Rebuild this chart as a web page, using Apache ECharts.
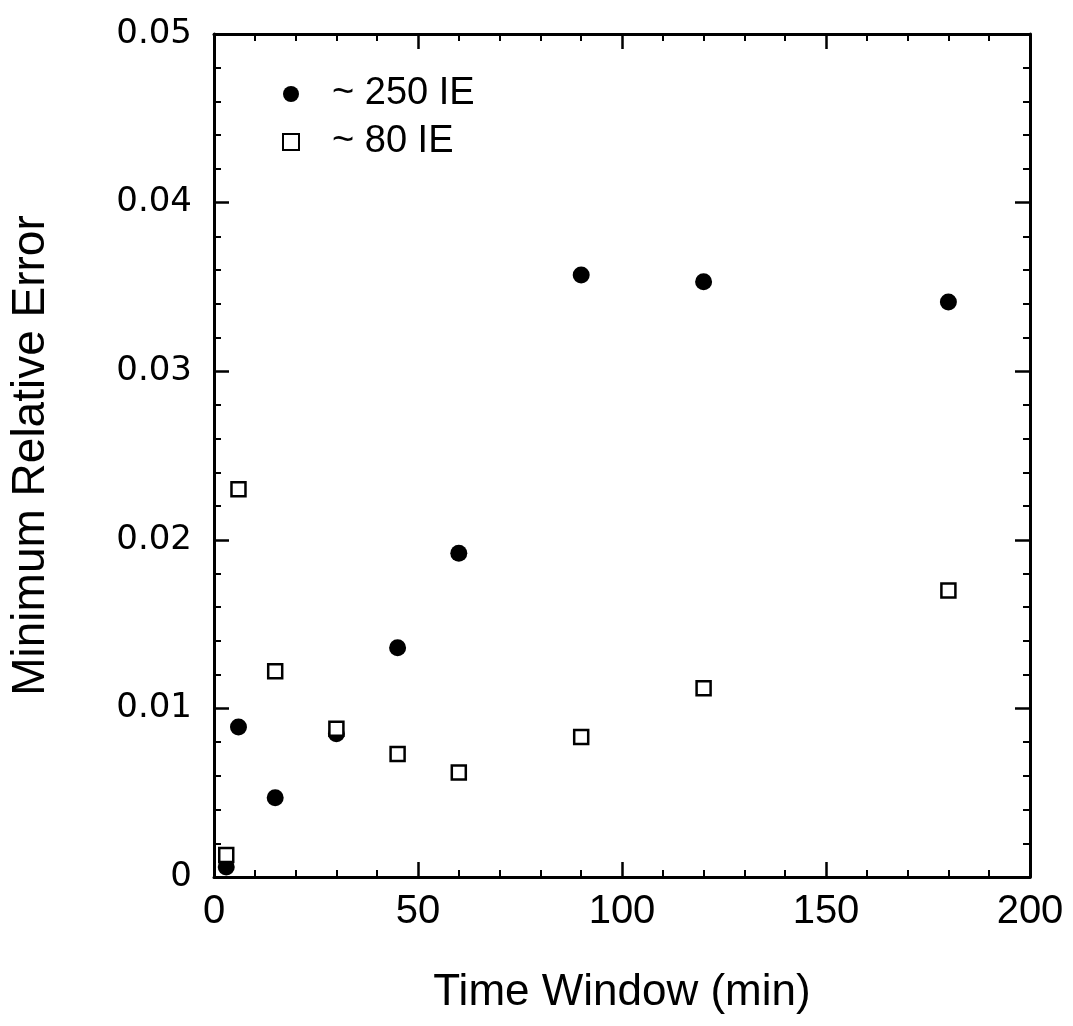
<!DOCTYPE html>
<html>
<head>
<meta charset="utf-8">
<script src="https://cdn.jsdelivr.net/npm/echarts@6/dist/echarts.min.js"></script>
<style>
html,body{margin:0;padding:0;background:#fff;}
#chart{width:1073px;height:1026px;}
</style>
</head>
<body>
<div id="chart"></div>
<script>
// Data
var seriesNames = ['~ 250 IE', '~ 80 IE'];
var timeWindow = [3, 6, 15, 30, 45, 60, 90, 120, 180];
var err250 = [0.0006, 0.0089, 0.0047, 0.0085, 0.0136, 0.0192, 0.0357, 0.0353, 0.0341];
var err80 = [0.0013, 0.0230, 0.0122, 0.0088, 0.0073, 0.0062, 0.0083, 0.0112, 0.0170];
var xTitle = 'Time Window (min)';
var yTitle = 'Minimum Relative Error';

function pairs(xs, ys) { return xs.map(function (x, i) { return [x, ys[i]]; }); }

var chart = echarts.init(document.getElementById('chart'), null, {renderer: 'canvas'});
var axisCommon = {
  axisLine: {show: true, onZero: false, lineStyle: {color: '#000', width: 3}},
  axisTick: {show: true, inside: true, length: 15, lineStyle: {color: '#000', width: 2.5}},
  minorTick: {show: true, splitNumber: 5, length: 7, lineStyle: {color: '#000', width: 2}},
  splitLine: {show: false}
};
var option = {
  backgroundColor: '#fff',
  animation: false,
  grid: {left: 213, right: 43, top: 34, bottom: 149, containLabel: false},
  legend: {
    data: seriesNames,
    orient: 'vertical',
    left: 277,
    top: 70,
    itemWidth: 16,
    itemHeight: 16,
    itemGap: 10,
    textStyle: {fontFamily: 'Liberation Sans', fontSize: 38, color: '#000', padding: [0, 0, 0, 28], lineHeight: 34}
  },
  xAxis: [
    Object.assign({}, axisCommon, {
      type: 'value', min: 0, max: 200, interval: 50, position: 'bottom',
      name: xTitle, nameLocation: 'middle', nameGap: 94,
      nameTextStyle: {fontFamily: 'Liberation Sans', fontSize: 44, color: '#000'},
      axisLabel: {show: true, margin: 15, color: '#000', fontFamily: 'Liberation Sans', fontSize: 40}
    }),
    Object.assign({}, axisCommon, {
      type: 'value', min: 0, max: 200, interval: 50, position: 'top',
      axisLabel: {show: false}
    })
  ],
  yAxis: [
    Object.assign({}, axisCommon, {
      type: 'value', min: 0, max: 0.05, interval: 0.01, position: 'left',
      name: yTitle, nameLocation: 'middle', nameGap: 160, nameRotate: 90,
      nameTextStyle: {fontFamily: 'Liberation Sans', fontSize: 46, color: '#000'},
      axisLabel: {show: true, margin: 22, color: '#000', fontFamily: 'DejaVu Sans', fontSize: 34}
    }),
    Object.assign({}, axisCommon, {
      type: 'value', min: 0, max: 0.05, interval: 0.01, position: 'right',
      axisLabel: {show: false}
    })
  ],
  series: [
    {
      name: seriesNames[0], type: 'scatter', xAxisIndex: 0, yAxisIndex: 0,
      symbol: 'circle', symbolSize: 17,
      itemStyle: {color: '#000', opacity: 1},
      data: pairs(timeWindow, err250), z: 2
    },
    {
      name: seriesNames[1], type: 'scatter', xAxisIndex: 0, yAxisIndex: 0,
      symbol: 'rect', symbolSize: 14,
      itemStyle: {color: '#fff', borderColor: '#000', borderWidth: 2.5, opacity: 1},
      data: pairs(timeWindow, err80), z: 3
    }
  ]
};
chart.setOption(option);
</script>
</body>
</html>
